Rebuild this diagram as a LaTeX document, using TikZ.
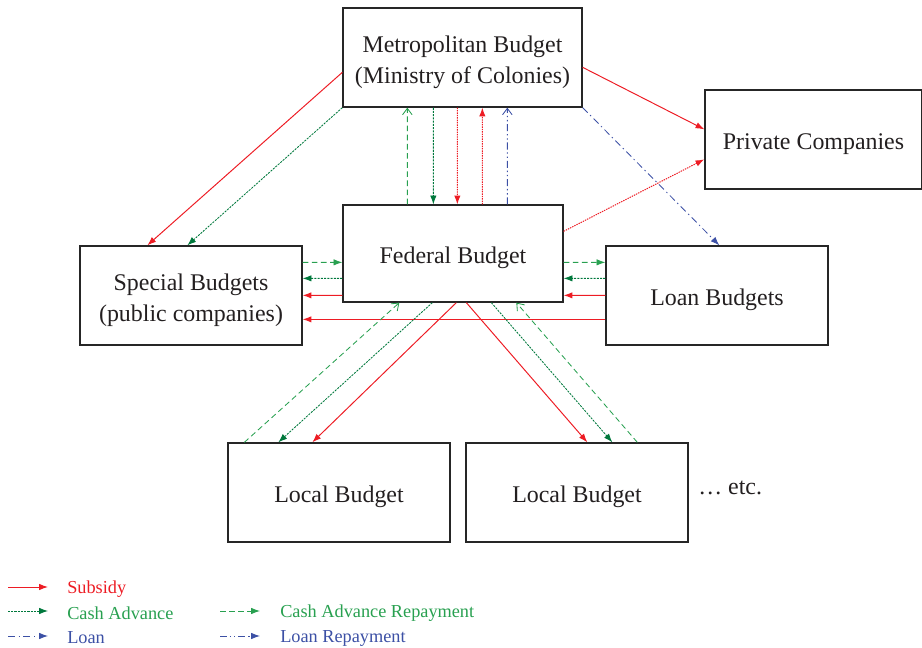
\documentclass[tikz,border=0pt]{standalone}
\usepackage{fontspec}
\setmainfont{Liberation Serif}
\usetikzlibrary{arrows.meta,calc}
\definecolor{subred}{RGB}{237,28,36}
\definecolor{advgreen}{RGB}{0,120,60}
\definecolor{repgreen}{RGB}{40,160,80}
\definecolor{loanblue}{RGB}{60,80,165}
\definecolor{boxtext}{RGB}{35,31,32}

\begin{document}
\begin{tikzpicture}[x=0.025cm, y=-0.025cm,
    budget/.style={draw=black!85, line width=0.9pt, inner sep=0pt, text=boxtext,
        minimum width=5.55cm, minimum height=2.475cm, align=center,
        font=\fontsize{17}{22}\selectfont,
        execute at begin node={\rule{0pt}{18pt}}},
    twoline/.style={execute at begin node={\rule{0pt}{41pt}}},
    subsidy/.style={subred, line width=0.7pt, -{Latex[length=2.2mm,width=1.6mm]}},
    subdot/.style={subsidy, dash pattern=on 1pt off 0.7pt},
    advance/.style={advgreen, line width=0.6pt, dash pattern=on 1.5pt off 0.8pt,
        -{Latex[length=2.2mm,width=1.6mm]}},
    repay/.style={repgreen, line width=0.6pt, dash pattern=on 4pt off 2.5pt,
        -{Straight Barb[length=1.6mm,width=2.4mm]}},
    repayfull/.style={repay, -{Latex[length=2.2mm,width=1.6mm]}},
    loan/.style={loanblue, line width=0.6pt, dash pattern=on 5pt off 2.5pt on 1pt off 2.5pt,
        -{Latex[length=2.2mm,width=1.6mm]}},
    loanrepay/.style={loan, dash pattern=on 5pt off 2pt on 1pt off 2pt on 1pt off 2pt,
        -{Straight Barb[length=1.6mm,width=2.4mm]}},
    legend/.style={anchor=west, inner sep=0pt, font=\fontsize{13}{15}\selectfont}
]
    \useasboundingbox (0,0) rectangle (922,648);

    % the budgets
    \node[budget, twoline, minimum width=5.975cm] (metro) at (462.5,57.5) {Metropolitan Budget\\(Ministry of Colonies)};
    \node[budget, minimum width=5.425cm] (priv) at (813.5,139.5) {Private Companies};
    \node[budget, minimum width=5.5cm, minimum height=2.425cm] (fed) at (453,253.5) {Federal Budget};
    \node[budget, twoline] (spec) at (191,295.5) {Special Budgets\\(public companies)};
    \node[budget] (loanb) at (717,295.5) {Loan Budgets};
    \node[budget] (loc1) at (339,492.5) {Local Budget};
    \node[budget] (loc2) at (577,492.5) {Local Budget};
    \node[anchor=west, inner sep=0pt, text=boxtext, font=\fontsize{17}{22}\selectfont] (etc) at (698,488) {… etc.};

    % from the metropolitan budget
    \draw[subsidy] ($(metro.north west)+(0,65)$) -- ($(spec.north west)+(68,0)$);
    \draw[advance] (metro.south west) -- ($(spec.north west)+(108,0)$);
    \draw[subsidy] ($(metro.north east)+(0,60)$) -- ($(priv.north west)+(0,40)$);
    \draw[loan] (metro.south east) -- ($(loanb.north west)+(114,0)$);

    % between metropolitan and federal budget
    \draw[repay] ($(fed.north west)+(65,0)$) -- ($(metro.south west)+(65,0)$);
    \draw[advance] ($(metro.south west)+(91,0)$) -- ($(fed.north west)+(91,0)$);
    \draw[subdot] ($(metro.south west)+(115,0)$) -- ($(fed.north west)+(115,0)$);
    \draw[subdot] ($(fed.north west)+(140,0)$) -- ($(metro.south west)+(140,0)$);
    \draw[loanrepay] ($(fed.north west)+(165,0)$) -- ($(metro.south west)+(165,0)$);
    \draw[subdot] ($(fed.north east)+(0,27)$) -- ($(priv.north west)+(0,70)$);

    % federal budget and the side budgets
    \draw[repayfull] ($(spec.north east)+(0,17)$) -- ($(fed.north west)+(0,58)$);
    \draw[advance] ($(fed.north west)+(0,74)$) -- ($(spec.north east)+(0,33)$);
    \draw[subsidy] ($(fed.north west)+(0,91)$) -- ($(spec.north east)+(0,50)$);
    \draw[subsidy] ($(loanb.north west)+(0,74)$) -- ($(spec.north east)+(0,74)$);
    \draw[repayfull] ($(fed.north east)+(0,58)$) -- ($(loanb.north west)+(0,17)$);
    \draw[advance] ($(loanb.north west)+(0,33)$) -- ($(fed.north east)+(0,74)$);
    \draw[subsidy] ($(loanb.north west)+(0,50)$) -- ($(fed.north east)+(0,91)$);

    % federal budget and the local budgets
    \draw[repay] ($(loc1.north west)+(17,0)$) -- ($(fed.south west)+(57,0)$);
    \draw[advance] ($(fed.south west)+(90,0)$) -- ($(loc1.north west)+(51,0)$);
    \draw[subsidy] ($(fed.south west)+(114,0)$) -- ($(loc1.north west)+(85,0)$);
    \draw[subsidy] ($(fed.south west)+(124,0)$) -- ($(loc2.north west)+(122,0)$);
    \draw[advance] ($(fed.south west)+(149,0)$) -- ($(loc2.north west)+(147,0)$);
    \draw[repay] ($(loc2.north west)+(172,0)$) -- ($(fed.south west)+(174,0)$);

    % legend
    \node[legend, text=subred] (lsub) at (67,589) {Subsidy};
    \node[legend, text=repgreen] (ladv) at (67,613) {Cash Advance};
    \node[legend, text=loanblue] (lloan) at (67,638) {Loan};
    \node[legend, text=repgreen] (lrep) at (280,613) {Cash Advance Repayment};
    \node[legend, text=loanblue] (llrep) at (280,638) {Loan Repayment};
    \draw[subsidy] ($(lsub.west)+(-59,-2)$) -- ($(lsub.west)+(-19,-2)$);
    \draw[advance] ($(ladv.west)+(-59,-2)$) -- ($(ladv.west)+(-19,-2)$);
    \draw[loan] ($(lloan.west)+(-59,-2)$) -- ($(lloan.west)+(-19,-2)$);
    \draw[repayfull] ($(lrep.west)+(-60,-2)$) -- ($(lrep.west)+(-20,-2)$);
    \draw[loanrepay, -{Latex[length=2.2mm,width=1.6mm]}] ($(llrep.west)+(-60,-2)$) -- ($(llrep.west)+(-20,-2)$);
\end{tikzpicture}
\end{document}
